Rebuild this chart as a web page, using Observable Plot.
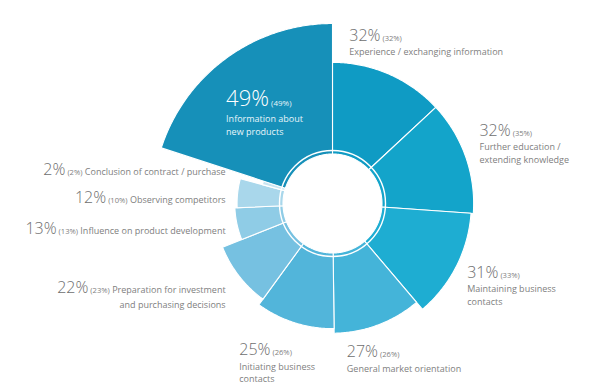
<!DOCTYPE html>
<html>
<head>
<meta charset="utf-8">
<script src="https://cdn.jsdelivr.net/npm/d3@7"></script>
<script src="https://cdn.jsdelivr.net/npm/@observablehq/plot@0.6"></script>
<style>
  html, body { margin: 0; padding: 0; background: #fff; }
  #chart svg { display: block; font-family: "Open Sans", "Noto Sans", sans-serif; }
</style>
</head>
<body>
<div id="chart"></div>
<script>
// ---- data ----
const categories = [
  "Experience / exchanging information",
  "Further education / extending knowledge",
  "Maintaining business contacts",
  "General market orientation",
  "Initiating business contacts",
  "Preparation for investment and purchasing decisions",
  "Influence on product development",
  "Observing competitors",
  "Conclusion of contract / purchase",
  "Information about new products"
];
const labelLines = [
  ["Experience / exchanging information"],
  ["Further education /", "extending knowledge"],
  ["Maintaining business", "contacts"],
  ["General market orientation"],
  ["Initiating business", "contacts"],
  ["Preparation for investment", "and purchasing decisions"],
  ["Influence on product development"],
  ["Observing competitors"],
  ["Conclusion of contract / purchase"],
  ["Information about", "new products"]
];
const values   = [32, 32, 31, 27, 25, 22, 13, 12, 2, 49];
const previous = [32, 35, 33, 26, 26, 23, 13, 10, 2, 49];
const palette  = ["#0f9bc4", "#13a4ca", "#1eadd2", "#44b4d9", "#52b5da", "#76c1e1", "#8fcce6", "#a9d7eb", "#c9e5f1", "#1690b9"];

// ---- layout ----
const W = 600, H = 389;
const cx = 332, cy = 203;          // centre of the rose, in px
const innerR = 49.5, ringR = 53;
const total = d3.sum(values);
const angle = d3.scaleLinear().domain([0, total]).range([0, 2 * Math.PI]);
const radius = d3.scaleLinear().domain([0, d3.max(values)]).range([68, 180]);
const ends = d3.cumsum(values);
const segs = values.map((v, i) => ({
  i, cat: categories[i], value: v, prev: previous[i], lines: labelLines[i],
  a0: angle(ends[i] - v), a1: angle(ends[i]), r: radius(v)
}));

// polygon vertices of each slice (in px-units around the centre, y up)
const poly = [];
for (const s of segs) {
  const n = Math.max(2, Math.ceil((s.a1 - s.a0) / 0.01));
  for (let k = 0; k <= n; k++) {
    const a = s.a0 + (s.a1 - s.a0) * k / n;
    poly.push({cat: s.cat, x: s.r * Math.sin(a), y: s.r * Math.cos(a)});
  }
  for (let k = n; k >= 0; k--) {
    const a = s.a0 + (s.a1 - s.a0) * k / n;
    poly.push({cat: s.cat, x: innerR * Math.sin(a), y: innerR * Math.cos(a)});
  }
}

// label anchors derived from the slices
const maxV = d3.max(values);
const labels = segs.map(s => {
  const mid = (s.a0 + s.a1) / 2;
  const sin = Math.sin(mid), cos = Math.cos(mid);
  let kind, R, fx, fy;
  if (s.value === maxV) { kind = "inside"; R = (innerR + s.r) / 2; fx = 0.5; fy = 0.5; }
  else if (sin < -0.5) { kind = "inline"; R = s.r + 12; fx = (1 - sin) / 2; fy = (1 + cos) / 2; }
  else { kind = "stacked"; R = s.r + 18; fx = (1 - sin) / 2; fy = (1 + cos) / 2; }
  return {...s, kind, fx, fy, lx: R * sin, ly: R * cos};
});

const NS = "http://www.w3.org/2000/svg";
function tspan(t, text, attrs) {
  const s = document.createElementNS(NS, "tspan");
  s.textContent = text;
  for (const k in attrs) s.setAttribute(k, attrs[k]);
  t.appendChild(s);
  return s;
}
function buildLabel(t, d) {
  t.textContent = "";
  const inside = d.kind === "inside";
  const bigCol = inside ? "#ffffff" : "#6e6e6e";
  const smallCol = inside ? "#e8f5fa" : "#808080";
  const fs = 9;
  const first = inside ? 16 : 14.5;   // baseline gap after the big figure
  const next = inside ? 13 : 12.5;     // gap between label lines
  tspan(t, `${d.value}%`, {"font-size": inside ? 22 : 16, "font-weight": 300, fill: bigCol});
  tspan(t, `\u00a0(${d.prev}%)`, {"font-size": inside ? 8 : 7.6, fill: smallCol});
  if (d.kind === "inline") {
    tspan(t, `\u00a0${d.lines[0]}`, {"font-size": fs, fill: smallCol});
    d.lines.slice(1).forEach(l => tspan(t, l, {x: 0, dy: first, "font-size": fs, fill: smallCol}));
  } else {
    d.lines.forEach((l, j) => tspan(t, l, {x: 0, dy: j === 0 ? first : next, "font-size": fs, fill: smallCol}));
  }
}
function labelMark(kind, anchor) {
  return Plot.text(labels.filter(d => d.kind === kind), {
    x: "lx", y: "ly", text: d => d.cat, textAnchor: anchor,
    render(index, scales, values, dims, context, next) {
      const g = next(index, scales, values, dims, context);
      const data = labels.filter(d => d.kind === kind);
      g.querySelectorAll("text").forEach((t, j) => {
        const i = index[j];
        const d = data[i];
        buildLabel(t, d);
        t.__lab = {d, X: values.x[i], Y: values.y[i]};
      });
      return g;
    }
  });
}

const chart = Plot.plot({
  width: W, height: H, margin: 0,
  x: {domain: [-cx, W - cx], axis: null},
  y: {domain: [cy - H, cy], axis: null},
  color: {domain: categories, range: palette},
  style: {background: "white"},
  marks: [
    Plot.line(poly, {x: "x", y: "y", z: "cat", fill: "cat", stroke: "white", strokeWidth: 1.1, curve: "linear-closed"}),
    Plot.dot([0], {x: d => d, y: d => d, r: ringR, fill: "none", stroke: "white", strokeWidth: 1.4}),
    labelMark("stacked", "start"),
    labelMark("inline", "end"),
    labelMark("inside", "start")
  ]
});
document.getElementById("chart").append(chart);

// place each label block relative to its anchor, then tidy the left column
const svgRect = chart.getBoundingClientRect();
const items = [];
chart.querySelectorAll("text").forEach(t => {
  if (!t.__lab) return;
  const r = t.getBoundingClientRect();
  const {d, X, Y} = t.__lab;
  const w = r.width, h = r.height;
  items.push({t, d, w, h, curL: r.left - svgRect.left, curT: r.top - svgRect.top,
              left: X - w * d.fx, top: Y - h * d.fy});
});
const inl = items.filter(o => o.d.kind === "inline");
const right = d3.min(inl, o => o.left + o.w);
inl.forEach(o => o.left = right - o.w);
inl.sort((a, b) => a.top - b.top);
for (let it = 0; it < 80; it++) {
  for (let j = 1; j < inl.length; j++) {
    const p = inl[j - 1], q = inl[j];
    const ov = p.top + p.h + 6 - q.top;
    if (ov > 0) { p.top -= ov / 2; q.top += ov / 2; }
  }
}
// keep every block inside the picture
items.forEach(o => {
  o.top = Math.max(2, Math.min(H - 2 - o.h, o.top));
  o.left = Math.max(2, Math.min(W - 2 - o.w, o.left));
});
items.forEach(o => {
  const sx = o.left - o.curL, sy = o.top - o.curT;
  const tr = o.t.getAttribute("transform") || "";
  o.t.setAttribute("transform", `${tr} translate(${sx.toFixed(2)},${sy.toFixed(2)})`);
});
</script>
</body>
</html>
